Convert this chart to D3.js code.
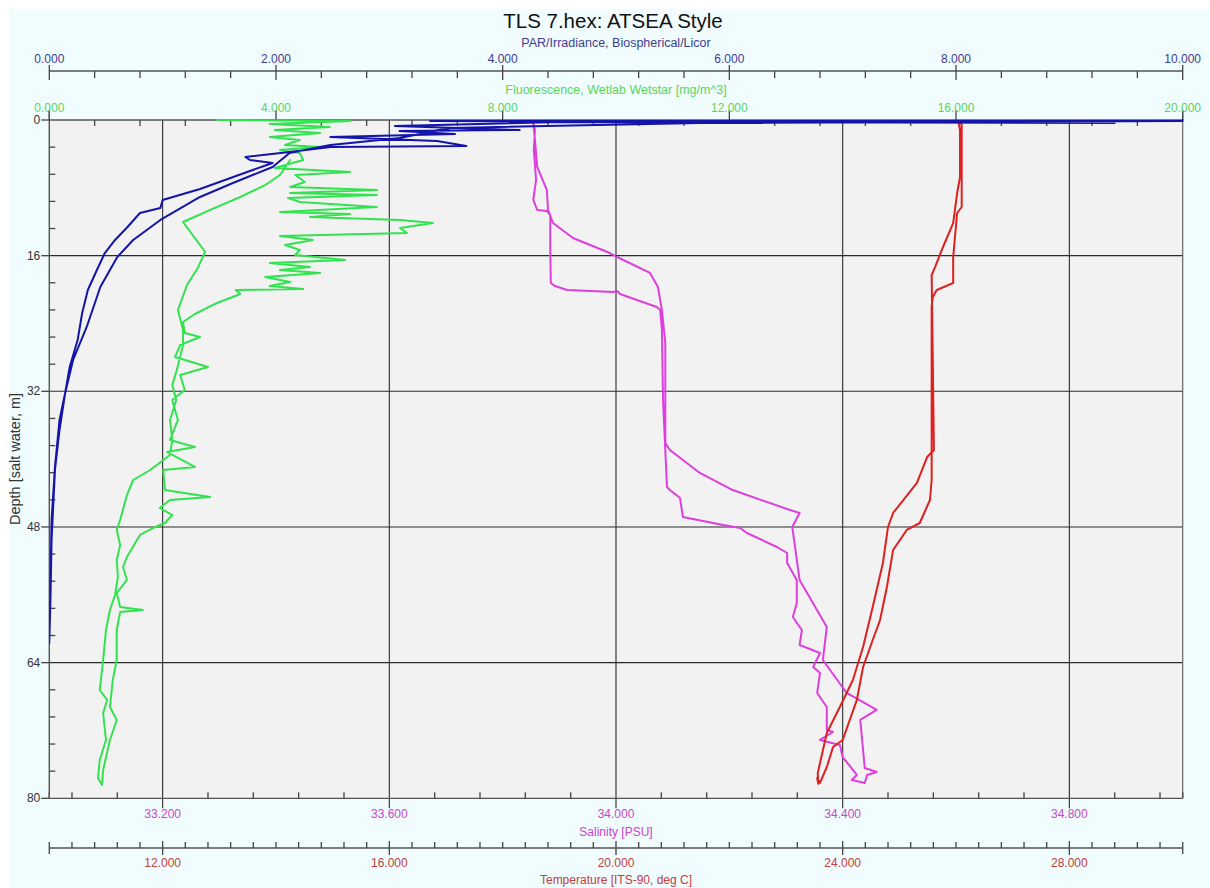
<!DOCTYPE html>
<html>
<head>
<meta charset="utf-8">
<script src="https://cdn.jsdelivr.net/npm/d3@7"></script>
<style>
  html, body { margin: 0; padding: 0; background: #ffffff; }
  svg { display: block; font-family: "Liberation Sans", Arial, sans-serif; }
</style>
</head>
<body>
<svg id="chart" width="1210" height="888"></svg>
<script>
// ---------------- DATA ----------------
const chartTitle = "TLS 7.hex: ATSEA Style";
const depthTicks = [0, 16, 32, 48, 64, 80];
const parTicks = [0, 2, 4, 6, 8, 10];
const fluorTicks = [0, 4, 8, 12, 16, 20];
const salTicks = [33.2, 33.6, 34.0, 34.4, 34.8];
const tempTicks = [12, 16, 20, 24, 28];

// PAR / Irradiance (down then up cast)
const parDepth = [0,0.12,0.12,0.35,0.24,0.71,1.18,1.30,1.65,2.00,2.48,3.07,3.18,3.77,4.36,4.72,5.07,6.01,8.14,9.43,10.38,10.97,12.62,14.15,15.69,17.69,20.05,22.76,25.95,29.13,32.20,35.38,40.92,47.18,54.25,61.68,
  56.61,49.53,41.28,36.56,32.20,28.30,24.41,19.70,16.16,14.15,11.79,9.08,7.43,5.54,3.89,2.95,2.12,0.94,0.35,0.12];
const parValue = [10.0,10.0,3.36,9.4,4.51,3.05,4.15,3.09,3.58,2.48,3.42,3.68,2.48,2.12,1.73,1.77,1.97,1.77,1.33,1.00,0.98,0.80,0.69,0.58,0.49,0.42,0.34,0.29,0.25,0.18,0.14,0.09,0.05,0.02,0.01,0.00,
  0.01,0.02,0.05,0.09,0.14,0.21,0.33,0.45,0.60,0.74,0.98,1.33,1.62,1.97,2.12,2.48,3.09,3.54,5.74,10.0];

// Fluorescence
const fluorDepth = [0,0.12,0.47,0.83,1.18,1.53,2.00,2.36,2.95,3.18,3.54,3.89,4.72,5.66,6.13,6.49,7.31,7.90,8.26,8.61,8.85,9.20,9.67,10.26,10.85,11.09,11.44,11.79,12.15,12.74,13.33,13.68,14.15,14.74,15.33,15.92,16.51,16.87,17.34,17.69,18.04,18.52,19.11,19.58,19.93,20.05,20.52,21.58,22.88,23.82,25.12,25.59,26.54,27.95,29.13,30.07,31.84,33.02,35.38,37.74,38.57,39.16,40.92,41.28,43.64,44.46,44.82,45.76,46.59,47.53,48.00,48.94,51.54,52.72,54.25,55.79,57.44,57.79,58.03,60.15,63.69,66.05,69.23,70.76,73.12,76.66,78.43,
  77.60,75.48,73.12,69.94,68.40,67.23,63.69,60.15,57.79,56.02,53.90,51.89,50.12,48.35,47.18,44.23,42.46,41.28,39.51,37.74,35.38,33.02,31.25,29.48,26.54,24.77,22.41,19.46,17.45,15.57,14.74,12.03,10.61,9.08,7.67,6.49,4.72];
const fluorValue = [2.96,5.31,3.89,4.95,3.98,4.78,3.89,4.42,4.16,4.78,4.07,4.42,4.48,3.98,5.31,4.34,4.51,4.25,5.78,4.25,5.78,4.21,4.42,5.78,4.07,5.31,4.60,6.19,6.77,6.19,6.31,4.07,4.65,4.16,4.42,4.34,5.22,3.89,4.60,4.07,4.78,3.81,4.25,3.89,4.48,3.29,3.37,2.96,2.57,2.36,2.39,2.66,2.31,2.22,2.80,2.31,2.39,2.17,2.27,2.13,2.57,2.08,2.57,2.01,2.04,2.84,2.13,1.95,2.17,2.04,1.87,1.60,1.37,1.30,1.37,1.19,1.25,1.65,1.25,1.19,1.19,1.12,1.07,1.19,1.07,0.95,0.93,
  0.86,0.89,1.00,0.95,1.02,0.89,0.95,1.00,1.07,1.16,1.21,1.19,1.25,1.19,1.25,1.37,1.48,1.78,2.13,2.17,2.13,2.24,2.17,2.25,2.36,2.36,2.27,2.43,2.62,2.75,2.66,2.36,2.84,3.37,3.81,4.07,4.25];

// Salinity
const salDepth = [0.12,0.24,1.18,3.54,7.08,9.43,10.61,10.73,11.20,15.33,19.22,19.58,20.05,20.29,20.17,20.52,22.05,22.41,24.77,33.02,38.92,43.28,43.64,44.58,46.82,47.77,48.12,48.71,50.36,51.07,52.25,54.25,56.96,58.62,60.15,61.92,62.86,64.51,65.22,67.58,69.23,71.94,72.18,73.12,73.71,75.13,76.66,77.25,77.84,
  78.19,77.25,76.90,76.42,70.76,69.58,67.58,63.69,59.79,54.25,48.00,46.35,46.00,43.64,41.63,38.92,38.09,26.30,22.41,19.70,18.04,16.16,15.69,13.92,12.15,10.61,8.26,5.54,2.36,0.24];
const salValue = [33.831,33.854,33.857,33.855,33.859,33.854,33.861,33.878,33.884,33.884,33.885,33.892,33.914,33.995,34.002,34.007,34.072,34.078,34.081,34.083,34.087,34.090,34.095,34.113,34.118,34.189,34.219,34.231,34.284,34.302,34.302,34.319,34.319,34.312,34.328,34.324,34.360,34.348,34.360,34.355,34.372,34.372,34.383,34.360,34.395,34.400,34.418,34.425,34.416,
  34.439,34.443,34.460,34.439,34.431,34.460,34.407,34.365,34.372,34.324,34.311,34.324,34.307,34.206,34.148,34.095,34.087,34.087,34.081,34.074,34.060,34.002,33.989,33.924,33.889,33.880,33.878,33.861,33.857,33.854];

// Temperature
const tempDepth = [0.12,0.59,10.26,10.97,16.16,19.22,20.05,20.87,22.05,42.46,44.82,47.53,48.35,50.71,55.08,58.97,61.33,64.51,68.40,73.12,73.95,76.31,78.19,
  77.60,78.30,77.01,72.30,69.23,66.05,62.15,57.44,52.25,48.00,46.35,42.81,39.75,38.92,18.28,17.34,14.98,12.15,8.61,6.72,1.18,0.12];
const tempValue = [26.07,26.10,26.10,26.02,25.95,25.95,25.66,25.59,25.57,25.57,25.54,25.36,25.13,24.89,24.78,24.66,24.53,24.36,24.25,24.00,23.83,23.72,23.60,
  23.55,23.57,23.56,23.72,23.95,24.18,24.36,24.53,24.71,24.80,24.89,25.31,25.49,25.61,25.57,25.63,25.77,25.95,26.02,26.07,26.07,26.04];

// ---------------- LAYOUT ----------------
const L = 49.3, R = 1182.7, T = 120, B = 798.3;
const svg = d3.select("#chart");

svg.append("rect").attr("x", 9).attr("y", 9).attr("width", 1201).attr("height", 879).attr("fill", "#f0fcfd");
svg.append("rect").attr("x", L).attr("y", T).attr("width", R - L).attr("height", B - T).attr("fill", "#f2f2f2");

const y = d3.scaleLinear().domain([0, 80]).range([T, B]);
const xPar = d3.scaleLinear().domain([0, 10]).range([L, R]);
const xFl = d3.scaleLinear().domain([0, 20]).range([L, R]);
const xSal = d3.scaleLinear().domain([33, 35]).range([L, R]);
const xTemp = d3.scaleLinear().domain([10, 30]).range([L, R]);
const fmt = d3.format(".3f");

// Gridlines
const grid = svg.append("g").attr("stroke", "#2b2b2b").attr("stroke-width", 1.1);
grid.selectAll(".vg").data(salTicks).join("line")
  .attr("x1", d => xSal(d)).attr("x2", d => xSal(d)).attr("y1", T).attr("y2", B + 10);
grid.selectAll(".hg").data(depthTicks.filter(d => d > 0 && d < 80)).join("line")
  .attr("x1", L).attr("x2", R).attr("y1", d => y(d)).attr("y2", d => y(d));

// right border
svg.append("line").attr("x1", R).attr("x2", R).attr("y1", T - 10).attr("y2", B).attr("stroke", "#666").attr("stroke-width", 1.2);

// Horizontal axis helper
function hAxis(scale, yPos, majors, minors, o) {
  const g = svg.append("g").attr("transform", `translate(0,${yPos})`);
  g.append("line").attr("x1", L).attr("x2", R).attr("y1", 0).attr("y2", 0).attr("stroke", "#555").attr("stroke-width", 1.3);
  g.selectAll(".mi").data(minors).join("line")
    .attr("x1", d => scale(d)).attr("x2", d => scale(d))
    .attr("y1", 0).attr("y2", o.minorLen).attr("stroke", "#444").attr("stroke-width", 1.3);
  g.selectAll(".ma").data(majors).join("line")
    .attr("x1", d => scale(d)).attr("x2", d => scale(d))
    .attr("y1", o.majA).attr("y2", o.majB).attr("stroke", "#444").attr("stroke-width", 1.3);
  g.selectAll(".lb").data(o.labels).join("text")
    .attr("x", d => scale(d)).attr("y", o.labelY)
    .attr("text-anchor", "middle").attr("font-size", 12).attr("fill", o.color)
    .text(d => fmt(d));
  if (o.title) {
    svg.append("text").attr("x", (L + R) / 2).attr("y", o.titleY)
      .attr("text-anchor", "middle").attr("font-size", o.titleSize || 12).attr("fill", o.color).text(o.title);
  }
}

// PAR axis (top)
hAxis(xPar, 71, parTicks, d3.range(0.4, 10, 0.4).filter(v => Math.abs(v / 2 - Math.round(v / 2)) > 1e-6), {
  minorLen: 7, majA: -6, majB: 9, labels: parTicks, labelY: -8, color: "#3d3d8f",
  title: "PAR/Irradiance, Biospherical/Licor", titleY: 47, titleSize: 12.5
});
// Fluorescence axis (plot top)
hAxis(xFl, T, fluorTicks, d3.range(0.8, 20, 0.8).filter(v => Math.abs(v / 4 - Math.round(v / 4)) > 1e-6), {
  minorLen: 6, majA: -10, majB: 0, labels: fluorTicks, labelY: -8, color: "#5ad65a",
  title: "Fluorescence, Wetlab Wetstar [mg/m^3]", titleY: 94, titleSize: 12.5
});
// Salinity axis (plot bottom)
hAxis(xSal, B, [33, 35], d3.range(33.04, 35, 0.08).filter(v => !salTicks.some(t => Math.abs(t - v) < 1e-6)), {
  minorLen: -6, majA: -6, majB: 0, labels: salTicks, labelY: 20, color: "#cc44cc",
  title: "Salinity [PSU]", titleY: 836
});
// Temperature axis (bottom)
hAxis(xTemp, 848, tempTicks, d3.range(10.4, 30, 0.4).filter(v => Math.abs(v / 4 - Math.round(v / 4)) > 1e-6), {
  minorLen: -6, majA: -7, majB: 7, labels: tempTicks, labelY: 19, color: "#bf4040",
  title: "Temperature [ITS-90, deg C]", titleY: 884
});
// temperature end ticks
svg.selectAll(".tend").data([10, 30]).join("line")
  .attr("x1", d => xTemp(d)).attr("x2", d => xTemp(d)).attr("y1", 842).attr("y2", 854)
  .attr("stroke", "#444").attr("stroke-width", 1.3);

// Depth axis (left)
const dAx = svg.append("g");
dAx.append("line").attr("x1", L).attr("x2", L).attr("y1", T - 9).attr("y2", B).attr("stroke", "#555").attr("stroke-width", 1.4);
dAx.selectAll(".dmi").data(d3.range(3.2, 80, 3.2).filter(v => Math.abs(v / 16 - Math.round(v / 16)) > 1e-6)).join("line")
  .attr("x1", L).attr("x2", L + 6).attr("y1", d => y(d)).attr("y2", d => y(d)).attr("stroke", "#444").attr("stroke-width", 1.3);
dAx.selectAll(".dma").data(depthTicks).join("line")
  .attr("x1", L - 8).attr("x2", L).attr("y1", d => y(d)).attr("y2", d => y(d)).attr("stroke", "#444").attr("stroke-width", 1.3);
dAx.selectAll(".dlb").data(depthTicks).join("text")
  .attr("x", L - 9).attr("y", d => y(d) + 4).attr("text-anchor", "end")
  .attr("font-size", 12).attr("fill", "#333").text(d => d);
svg.append("text").attr("transform", `translate(20,459) rotate(-90)`)
  .attr("text-anchor", "middle").attr("font-size", 14.5).attr("fill", "#333").text("Depth [salt water, m]");

// Title
svg.append("text").attr("x", 613).attr("y", 28).attr("text-anchor", "middle")
  .attr("font-size", 20.5).attr("fill", "#111").text(chartTitle);

// ---------------- TRACES ----------------
svg.append("clipPath").attr("id", "plotclip").append("rect")
  .attr("x", L).attr("y", T - 2).attr("width", R - L + 1).attr("height", B - T + 2);
const traces = svg.append("g").attr("clip-path", "url(#plotclip)").attr("fill", "none")
  .attr("stroke-linejoin", "round").attr("stroke-linecap", "round");

function drawTrace(depths, values, xs, color, w) {
  const pts = depths.map((d, i) => [d, values[i]]);
  traces.append("path").datum(pts)
    .attr("d", d3.line().x(p => xs(p[1])).y(p => y(p[0])))
    .attr("stroke", color).attr("stroke-width", w);
}
drawTrace(fluorDepth, fluorValue, xFl, "#33e24f", 2);
drawTrace(salDepth, salValue, xSal, "#dd3fdd", 2);
drawTrace(tempDepth, tempValue, xTemp, "#dd2020", 2);
drawTrace(parDepth, parValue, xPar, "#1414a8", 2);
</script>
</body>
</html>
